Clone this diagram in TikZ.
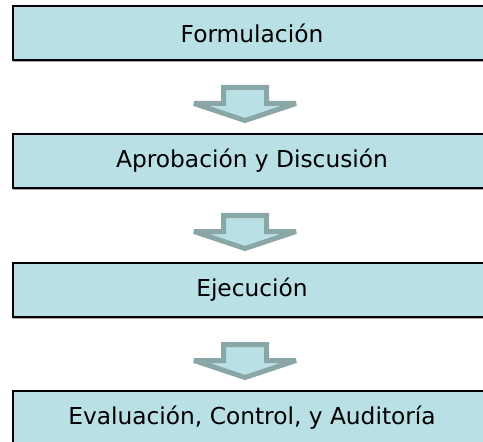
\documentclass[tikz,border=0pt]{standalone}
\usepackage{fontspec}
\setmainfont{DejaVu Sans}
\usepackage{tikz}
\usetikzlibrary{calc,positioning,shadows}

\definecolor{celeste}{HTML}{B9E0E4}
\definecolor{grisazul}{HTML}{8AA7A8}

\begin{document}
\begin{tikzpicture}[x=1bp,y=-1bp,font=\fontsize{23.3bp}{28bp}\selectfont]
        % Setup the styles for the boxes and the arrows
        \tikzset{caja/.style={rectangle,
                              draw=black,
                              line width=2bp,
                              fill=celeste,
                              minimum width=478bp,
                              minimum height=54bp,
                              inner sep=0pt,
                              drop shadow={shadow xshift=0bp, shadow yshift=-2bp,
                                           fill=gray!70, opacity=1}},
                 flecha/.style={draw=grisazul,
                                fill=celeste,
                                line width=5bp,
                                line join=miter,
                                miter limit=2}}

        \useasboundingbox (0,0) rectangle (483,442);
        \clip (0,0) rectangle (483,442);

        % Draw the boxes
        \node[caja] at (252, 33)  (form) {Formulación};
        \node[caja] at (252, 161) (apro) {Aprobación y Discusión};
        \node[caja] at (252, 290) (ejec) {Ejecución};
        \node[caja] at (252, 418) (eval) {Evaluación, Control, y Auditoría};

        % Connect the boxes with block arrows
        \foreach \a in {form, apro, ejec} {
            \coordinate (top) at ($(\a.south)+(-7,26.5)$);
            \draw[flecha] ($(top)+(-21.5,0)$) -- ($(top)+(21.5,0)$)
                       -- ($(top)+(21.5,16)$) -- ($(top)+(51,16)$)
                       -- ($(top)+(0,33)$)
                       -- ($(top)+(-51,16)$) -- ($(top)+(-21.5,16)$) -- cycle;
        }
\end{tikzpicture}
\end{document}
